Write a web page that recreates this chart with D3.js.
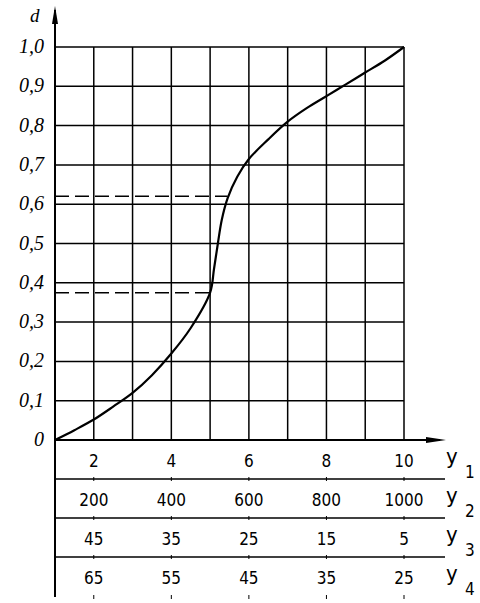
<!DOCTYPE html><html><head><meta charset="utf-8"><script src="https://cdn.jsdelivr.net/npm/d3@7"></script>
<style>body{margin:0;background:#fff}.serif{font-family:"Liberation Serif","Times New Roman",serif;font-style:italic}.tab{font-family:"Liberation Sans Narrow","DejaVu Sans Condensed",sans-serif}</style></head><body><svg id="c" width="480" height="603"></svg>
<script>
const xTicks=[2,4,6,8,10];
const y1=["2","4","6","8","10"];
const y2=["200","400","600","800","1000"];
const y3=["45","35","25","15","5"];
const y4=["65","55","45","35","25"];
const rows=[y1,y2,y3,y4];
const rowNames=["1","2","3","4"];
const dTicks=[0,0.1,0.2,0.3,0.4,0.5,0.6,0.7,0.8,0.9,1.0];
const curveX=[1,1.5,2,2.5,3,3.5,4,4.5,5,5.1,5.2,5.3,5.45,5.7,6,6.5,7,7.5,8,8.5,9,9.5,10];
const curveD=[0,0.025,0.052,0.085,0.12,0.165,0.22,0.285,0.375,0.435,0.5,0.56,0.615,0.67,0.715,0.765,0.81,0.845,0.875,0.905,0.935,0.965,1.0];
const dashes=[{d:0.62,x:5.45},{d:0.375,x:5.0}];
const svg=d3.select("#c");
const x=d3.scaleLinear().domain([1,10]).range([55,404]);
const y=d3.scaleLinear().domain([0,1]).range([440,47]);
const g=svg.append("g").attr("stroke","#000").attr("stroke-width",1.5);
d3.range(1,11).forEach(v=>g.append("line").attr("x1",x(v)).attr("x2",x(v)).attr("y1",y(0)).attr("y2",y(1)));
dTicks.forEach(v=>g.append("line").attr("x1",x(1)).attr("x2",x(10)).attr("y1",y(v)).attr("y2",y(v)));
g.append("line").attr("x1",x(1)).attr("x2",x(1)).attr("y1",597).attr("y2",10).attr("stroke-width",2);
svg.append("path").attr("d",`M${x(1)-3},24 L${x(1)},6 L${x(1)+3},24 Z`).attr("fill","#000");
g.append("line").attr("x1",x(1)).attr("x2",440).attr("y1",y(0)).attr("y2",y(0)).attr("stroke-width",2);
svg.append("path").attr("d",`M426,${y(0)-3} L446,${y(0)} L426,${y(0)+3} Z`).attr("fill","#000");
svg.append("text").attr("class","serif").attr("x",30).attr("y",22).text("d").attr("font-size",19);
svg.selectAll(".yl").data(dTicks).join("text").attr("class","serif").attr("x",44).attr("y",d=>y(d)+6).attr("text-anchor","end")
 .attr("font-size",20)
 .text(d=>d===0?"0":d3.format(".1f")(d).replace(".",","));
const rowY=[440,479,518,557,597];
[1,2,3].forEach(i=>g.append("line").attr("x1",x(1)).attr("x2",445).attr("y1",rowY[i]).attr("y2",rowY[i]));
rows.forEach((r,i)=>{
 r.forEach((t,j)=>{
  svg.append("text").attr("class","tab").attr("x",x(xTicks[j])).attr("y",(rowY[i]+rowY[i+1])/2+7).attr("text-anchor","middle")
   .attr("font-size",17).text(t);
  g.append("line").attr("x1",x(xTicks[j])).attr("x2",x(xTicks[j])).attr("y1",rowY[i+1]-2).attr("y2",rowY[i+1]+2).attr("stroke-width",1);
 });
 svg.append("text").attr("class","tab").attr("x",446).attr("y",rowY[i]+24).attr("font-size",22).text("у");
 svg.append("text").attr("class","tab").attr("x",465).attr("y",rowY[i]+38).attr("font-size",17).text(rowNames[i]);
});
dashes.forEach(o=>svg.append("line").attr("x1",x(1)).attr("x2",x(o.x)).attr("y1",y(o.d)).attr("y2",y(o.d))
 .attr("stroke","#000").attr("stroke-width",1.5).attr("stroke-dasharray","14,6"));
svg.append("path").datum(curveX.map((v,i)=>[v,curveD[i]])).attr("fill","none").attr("stroke","#000").attr("stroke-width",2.2)
 .attr("d",d3.line().x(d=>x(d[0])).y(d=>y(d[1])).curve(d3.curveCatmullRom));
</script></body></html>
